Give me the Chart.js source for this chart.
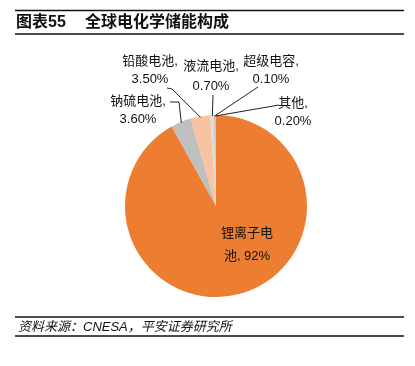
<!DOCTYPE html>
<html>
<head>
<meta charset="utf-8">
<script src="https://cdn.jsdelivr.net/npm/chart.js@4/dist/chart.umd.min.js"></script>
<style>
  html, body { margin: 0; padding: 0; background: #fff; }
  canvas { display: block; }
</style>
</head>
<body>
<canvas id="grafico" width="415" height="366"></canvas>
<script>
const categorias = ['锂离子电池', '钠硫电池', '铅酸电池', '液流电池', '超级电容', '其他'];
const participacao = [92, 3.6, 3.5, 0.7, 0.1, 0.2];
const rotulosPct = ['92%', '3.60%', '3.50%', '0.70%', '0.10%', '0.20%'];
const cores = ['#ED7D31', '#BFBFBF', '#F8C3A0', '#DCDCDC', '#9A9A9A', '#C8C8C8'];

const FONTE = '"Liberation Sans", "Noto Sans CJK SC", sans-serif';

// where each label sits and the bend of its leader line (layout only)
const layoutRotulos = [
    { x: 247, ys: [233, 256], quebra: 4, linha: null },
    { x: 138, ys: [101, 119], linha: [[170, 102], [179, 102]] },
    { x: 150, ys: [61, 79], linha: [[167, 88], [172, 89]] },
    { x: 211, ys: [66, 86], linha: [[213, 95]] },
    { x: 271, ys: [61, 79], linha: [[258, 87]] },
    { x: 293, ys: [103, 121], linha: [[279, 105]] }
];

const moldura = {
    id: 'moldura',
    afterDraw(chart) {
        const ctx = chart.ctx;
        ctx.save();
        // title + rules
        ctx.strokeStyle = '#111';
        ctx.lineWidth = 1.5;
        [10.5, 34, 317, 336].forEach(y => {
            ctx.beginPath();
            ctx.moveTo(15, y);
            ctx.lineTo(404, y);
            ctx.stroke();
        });
        ctx.fillStyle = '#111';
        ctx.textBaseline = 'middle';
        ctx.textAlign = 'left';
        ctx.font = 'bold 16px ' + FONTE;
        ctx.fillText('图表55', 16, 23);
        ctx.fillText('全球电化学储能构成', 85, 23);
        ctx.font = 'italic 13px ' + FONTE;
        ctx.fillText('资料来源：CNESA，平安证券研究所', 18, 327);

        // slice labels with leader lines
        const arcos = chart.getDatasetMeta(0).data;
        ctx.font = '13px ' + FONTE;
        ctx.textAlign = 'center';
        ctx.lineWidth = 1;
        ctx.strokeStyle = '#222';
        arcos.forEach((arco, i) => {
            const cfg = layoutRotulos[i];
            const texto = categorias[i] + ', ' + rotulosPct[i];
            const corte = cfg.quebra || categorias[i].length + 1;
            const linhas = [texto.slice(0, corte).trim(), texto.slice(corte).trim()];
            linhas.forEach((t, k) => ctx.fillText(t, cfg.x, cfg.ys[k]));
            if (cfg.linha) {
                const meio = (arco.startAngle + arco.endAngle) / 2;
                const r = arco.outerRadius - 1;
                const ax = arco.x + Math.cos(meio) * r;
                const ay = arco.y + Math.sin(meio) * r;
                ctx.beginPath();
                ctx.moveTo(cfg.linha[0][0], cfg.linha[0][1]);
                cfg.linha.slice(1).forEach(p => ctx.lineTo(p[0], p[1]));
                ctx.lineTo(ax, ay);
                ctx.stroke();
            }
        });
        ctx.restore();
    }
};

new Chart(document.getElementById('grafico').getContext('2d'), {
    type: 'pie',
    data: {
        labels: categorias,
        datasets: [{
            data: participacao,
            backgroundColor: cores,
            borderWidth: 0,
            hoverOffset: 0
        }]
    },
    options: {
        responsive: false,
        animation: false,
        layout: {
            padding: { left: 125, right: 108, top: 115, bottom: 69 }
        },
        plugins: {
            legend: { display: false },
            tooltip: { enabled: false }
        }
    },
    plugins: [moldura]
});
</script>
</body>
</html>
